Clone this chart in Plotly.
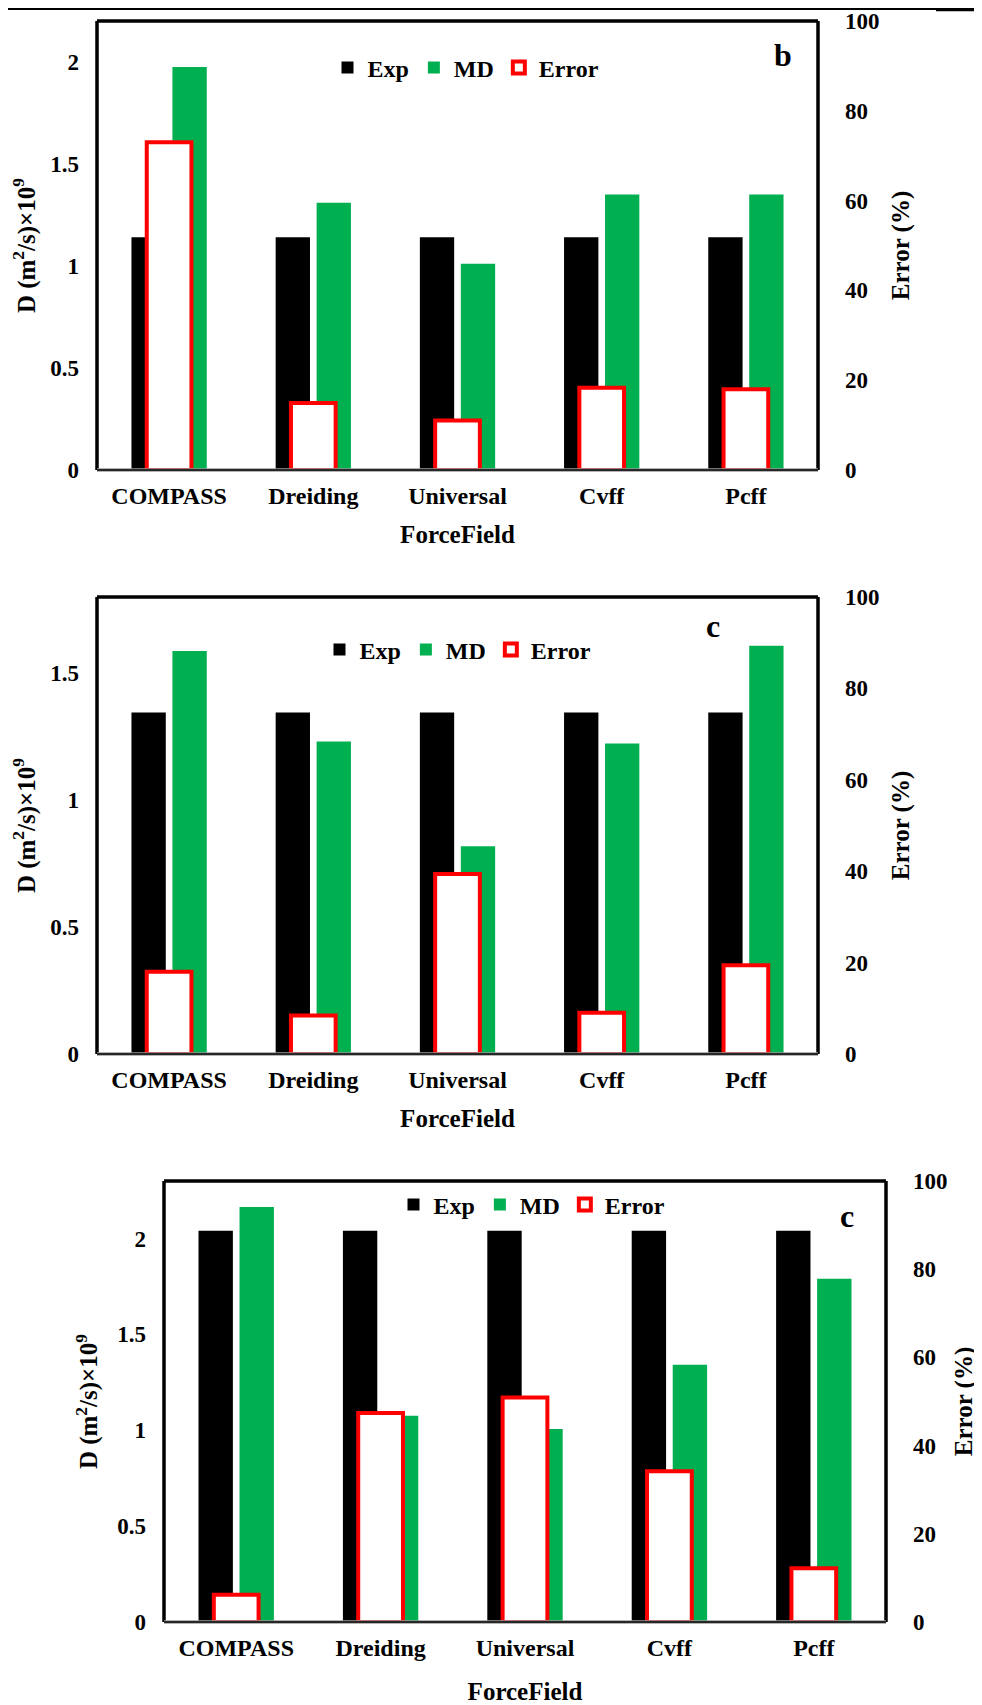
import plotly.graph_objects as go

# ---------------- data ----------------
categories = ["COMPASS", "Dreiding", "Universal", "Cvff", "Pcff"]

exp_b = [1.14, 1.14, 1.14, 1.14, 1.14]
md_b = [1.975, 1.31, 1.01, 1.35, 1.35]
err_b = [73.0, 14.9, 11.0, 18.3, 18.0]

exp_c1 = [1.345, 1.345, 1.345, 1.345, 1.345]
md_c1 = [1.587, 1.231, 0.818, 1.223, 1.608]
err_c1 = [18.0, 8.4, 39.4, 9.0, 19.4]

exp_c2 = [2.04, 2.04, 2.04, 2.04, 2.04]
md_c2 = [2.165, 1.076, 1.006, 1.342, 1.79]
err_c2 = [6.2, 47.4, 50.9, 34.2, 12.2]

left_ticks = [0, 0.5, 1, 1.5, 2]
left_ticktext = ["0", "0.5", "1", "1.5", "2"]
right_ticks = [0, 20, 40, 60, 80, 100]
panel_labels = ["b", "c", "c"]

# ---------------- layout helpers ----------------
W, H = 982, 1705
OFF = 8  # the page body margin shifts the figure by this many pixels
FONT = "Liberation Serif"
GREEN = "#00B050"
RED = "#FF0000"


def px_x(v):
    return (v - OFF) / W


def px_y(v):
    return 1 - (v - OFF) / H


panels = [
    dict(exp=exp_b, md=md_b, err=err_b, x0=97, x1=818, y0=21, y1=470, ymax=2.2,
         label=panel_labels[0], lab_xy=(783, 55), leg_xy=(466, 68), tstand=17, rstand=12),
    dict(exp=exp_c1, md=md_c1, err=err_c1, x0=97, x1=818, y0=597, y1=1054, ymax=1.8,
         label=panel_labels[1], lab_xy=(713, 626), leg_xy=(458, 650), tstand=17, rstand=12),
    dict(exp=exp_c2, md=md_c2, err=err_c2, x0=164, x1=886, y0=1181, y1=1622, ymax=2.3,
         label=panel_labels[2], lab_xy=(847, 1216), leg_xy=(532, 1205), tstand=22, rstand=7),
]

fig = go.Figure()
layout = dict(
    width=W, height=H, autosize=False,
    margin=dict(l=0, r=0, t=0, b=0, pad=0),
    paper_bgcolor="white", plot_bgcolor="white",
    barmode="overlay",
    font=dict(family=FONT, color="black", size=21, weight="bold"),
    shapes=[], annotations=[],
)

bar_w = 0.238
err_w = 0.31

for i, p in enumerate(panels):
    n = i + 1
    xa = "x" if n == 1 else f"x{n}"
    ya_l = "y" if n == 1 else f"y{2 * n - 1}"
    ya_r = f"y{2 * n}"
    leg = "legend" if n == 1 else f"legend{n}"

    fig.add_trace(go.Bar(x=categories, y=p["exp"], name="Exp", xaxis=xa, yaxis=ya_l,
                         width=bar_w, offset=-0.261, marker=dict(color="black", line=dict(width=0)),
                         legend=leg))
    fig.add_trace(go.Bar(x=categories, y=p["md"], name="MD", xaxis=xa, yaxis=ya_l,
                         width=bar_w, offset=0.023, marker=dict(color=GREEN, line=dict(width=0)),
                         legend=leg))
    fig.add_trace(go.Bar(x=categories, y=p["err"], name="Error", xaxis=xa, yaxis=ya_r,
                         width=err_w, offset=-err_w / 2,
                         marker=dict(color="white", line=dict(color=RED, width=4)),
                         legend=leg))

    xkey = "xaxis" if n == 1 else f"xaxis{n}"
    ylkey = "yaxis" if n == 1 else f"yaxis{2 * n - 1}"
    yrkey = f"yaxis{2 * n}"
    dom_x = [px_x(p["x0"]), px_x(p["x1"])]
    dom_y = [px_y(p["y1"]), px_y(p["y0"])]

    layout[xkey] = dict(
        domain=dom_x, anchor=ya_l, type="category", automargin=False,
        range=[-0.5, 4.5], showgrid=False, zeroline=False, showline=False,
        ticks="", ticklabelstandoff=9,
        tickfont=dict(size=24, family=FONT, weight="bold"),
        title=dict(text="ForceField", font=dict(size=25, family=FONT, weight="bold"),
                   standoff=p["tstand"]),
    )
    layout[ylkey] = dict(
        domain=dom_y, anchor=xa, range=[0, p["ymax"]], tickvals=left_ticks,
        ticktext=left_ticktext, automargin=False,
        showgrid=False, zeroline=False, showline=False, ticks="",
        ticklabelstandoff=17,
        tickfont=dict(size=23, family=FONT, weight="bold"),
        title=dict(text="D (m<sup>2</sup>/s)×10<sup>9</sup>",
                   font=dict(size=25, family=FONT, weight="bold"), standoff=12),
    )
    layout[yrkey] = dict(
        overlaying=ya_l, side="right", anchor=xa, range=[0, 100], tickvals=right_ticks,
        automargin=False,
        showgrid=False, zeroline=False, showline=False, ticks="",
        ticklabelstandoff=26,
        tickfont=dict(size=23, family=FONT, weight="bold"),
        title=dict(text="Error (%)", font=dict(size=25, family=FONT, weight="bold"),
                   standoff=p["rstand"]),
    )

    # frame: top, left, right black; bottom axis line
    for (xa0, ya0, xa1, ya1) in [(0, 1, 1, 1), (0, 0, 0, 1), (1, 0, 1, 1)]:
        layout["shapes"].append(dict(type="line", xref=f"{xa} domain", yref=f"{ya_l} domain",
                                     x0=xa0, y0=ya0, x1=xa1, y1=ya1,
                                     line=dict(color="black", width=3.5)))
    layout["shapes"].append(dict(type="line", xref=f"{xa} domain", yref=f"{ya_l} domain",
                                 x0=0, y0=0, x1=1, y1=0, line=dict(color="#9a9a9a", width=3.5)))
    layout["shapes"].append(dict(type="line", xref=f"{xa} domain", yref=f"{ya_l} domain",
                                 x0=0, y0=0, x1=1, y1=0, line=dict(color="black", width=1.5)))

    layout["annotations"].append(dict(
        text=p["label"], x=px_x(p["lab_xy"][0]), y=px_y(p["lab_xy"][1]),
        xref="paper", yref="paper", xanchor="center", yanchor="middle", showarrow=False,
        font=dict(size=32, family=FONT, weight="bold")))

    layout[leg] = dict(
        x=px_x(p["leg_xy"][0]), y=px_y(p["leg_xy"][1]), xanchor="center", yanchor="middle",
        orientation="h", bgcolor="rgba(0,0,0,0)", itemwidth=30, traceorder="normal",
        font=dict(size=24, family=FONT, weight="bold"),
    )

# decorative page rule at the top
layout["shapes"].append(dict(type="line", xref="paper", yref="paper",
                             x0=0, x1=px_x(937), y0=px_y(9), y1=px_y(9),
                             line=dict(color="black", width=2)))
layout["shapes"].append(dict(type="line", xref="paper", yref="paper",
                             x0=px_x(936), x1=1, y0=px_y(9.5), y1=px_y(9.5),
                             line=dict(color="black", width=3.5)))

fig.update_layout(**layout)
fig.write_html("out.html")
